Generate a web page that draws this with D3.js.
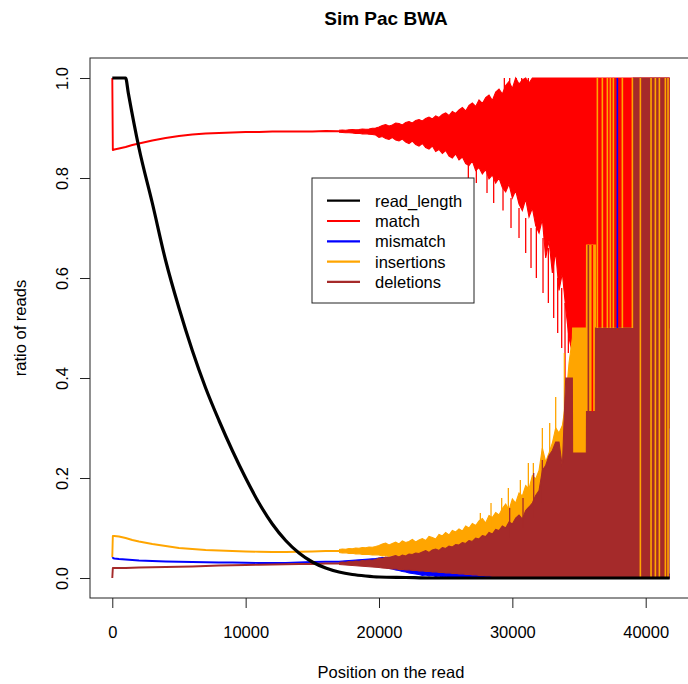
<!DOCTYPE html>
<html>
<head>
<meta charset="utf-8">
<script src="https://cdn.jsdelivr.net/npm/d3@7"></script>
<style>
  body { margin: 0; background: #fff; }
  svg text { font-family: "Liberation Sans", Arial, Helvetica, sans-serif; fill: #000; }
</style>
</head>
<body>
<svg id="chart" width="688" height="684"></svg>
<script>
// ---- series names, axis ticks ----
const seriesNames = ["read_length", "match", "mismatch", "insertions", "deletions"];
const xTicks = [0, 10000, 20000, 30000, 40000];
const yTicks = [0, 0.2, 0.4, 0.6, 0.8, 1.0];
const yTickLabels = ["0.0", "0.2", "0.4", "0.6", "0.8", "1.0"];

// ---- fraction of reads still covering each position ----
const readPos = [0, 1000, 1200, 2000, 3000, 4000, 5000, 6000, 7000, 8000, 9000, 10000, 11000, 12000,
                 13000, 14000, 15000, 16000, 17000, 18000, 19000, 20000, 22000, 24000, 41800];
const readVal = [1, 1, .97, .86, .75, .635, .54, .455, .38, .315, .255, .2, .15, .108,
                 .075, .05, .032, .02, .012, .007, .004, .002, .001, 0, 0];

// ---- well-covered start of the read: one value per position ----
const smoothPos = [0, 40, 150, 500, 1000, 1500, 2000, 3000, 4000, 5000, 6000, 7000, 8000, 9000,
                   10000, 11000, 12000, 13000, 14000, 15000, 16000, 17000];
const matchSmooth = [1.0, .856, .857, .859, .862, .866, .869, .875, .880, .884, .887, .889, .890, .891,
                     .892, .892, .893, .893, .893, .893, .894, .8935];
const misSmooth = [.039, .040, .039, .038, .037, .036, .035, .034, .033, .0325, .032, .0315, .031, .031,
                   .0305, .030, .030, .030, .031, .032, .0325, .0325];
const insSmooth = [.042, .084, .084, .083, .080, .076, .073, .068, .064, .060, .058, .056, .055, .054,
                   .053, .0525, .052, .052, .0525, .053, .054, .054];
const delSmooth = [0, .020, .020, .020, .020, .0205, .021, .0215, .022, .0225, .023, .024, .025, .0255,
                   .026, .0265, .027, .0275, .028, .028, .029, .029];

// ---- sparse coverage: low / high of each ratio per bin of 250 positions (17000 .. 34500) ----
const gridPos = d3.range(17000, 34501, 250);
const matchHi = [
  .8955,.896,.8955,.8965,.897,.8965,.897,.898,.8975,.898,.8995,.900,
  .902,.905,.907,.904,.906,.910,.909,.906,.911,.913,.910,.915,
  .917,.914,.919,.922,.918,.924,.921,.927,.930,.925,.933,.929,
  .936,.941,.934,.945,.950,.943,.956,.949,.961,.966,.955,.972,
  .978,.968,.985,.993,.979,1.0,.988,.996,1.0,.990,1.0,1.0,
  1.0,1.0,1.0,1.0,1.0,1.0,1.0,1.0,1.0,1.0,1.0];
const matchLo = [
  .8915,.891,.8905,.8905,.890,.889,.8895,.888,.8885,.8875,.887,.886,
  .881,.883,.879,.877,.881,.876,.874,.878,.872,.869,.874,.867,
  .864,.869,.861,.858,.864,.853,.857,.849,.855,.844,.840,.848,
  .836,.842,.829,.825,.834,.815,.821,.808,.817,.798,.806,.790,
  .800,.781,.772,.788,.760,.775,.748,.735,.758,.722,.740,.705,
  .690,.718,.640,.675,.610,.652,.575,.610,.540,.480,.450];
const insHi = [
  .057,.058,.0575,.059,.0585,.060,.0595,.061,.0605,.062,.0615,.063,
  .065,.068,.070,.066,.069,.072,.068,.074,.071,.073,.077,.072,
  .076,.079,.075,.083,.081,.078,.087,.084,.091,.086,.095,.092,
  .098,.094,.104,.100,.109,.105,.114,.119,.110,.125,.121,.131,
  .126,.139,.148,.136,.158,.150,.170,.164,.185,.178,.205,.198,
  .215,.260,.232,.250,.270,.300,.290,.305,.350,.430,.480];
const insLo = [
  .051,.050,.0505,.049,.0495,.048,.0485,.047,.0475,.047,.046,.0465,
  .046,.044,.045,.043,.045,.042,.044,.041,.043,.040,.042,.039,
  .038,.036,.037,.034,.035,.032,.033,.030,.031,.028,.029,.026,
  .026,.024,.025,.022,.022,.020,.021,.018,.019,.016,.017,.015,
  .015,.013,.014,.012,.012,.010,.011,.010,.010,.010,.010,.010,
  .010,.010,.010,.010,.010,.010,.010,.010,.010,.010,.010];
const delHi = [
  .031,.032,.0315,.033,.0325,.034,.0335,.035,.0345,.036,.0355,.037,
  .040,.039,.042,.041,.043,.045,.042,.046,.044,.048,.047,.050,
  .049,.052,.055,.051,.056,.058,.055,.061,.059,.064,.062,.067,
  .066,.071,.069,.075,.073,.080,.078,.085,.083,.091,.088,.097,
  .095,.104,.100,.112,.108,.120,.126,.118,.135,.142,.150,.165,
  .175,.215,.225,.245,.255,.272,.272,.222,.400,.400,.400];
const delLo = [
  .027,.0265,.026,.0255,.025,.0245,.024,.0235,.023,.0225,.022,.0215,
  .021,.020,.0195,.019,.018,.0185,.017,.0175,.016,.0165,.015,.0155,
  .014,.0145,.013,.0135,.012,.0125,.011,.0115,.010,.0105,.009,.0095,
  .008,.0085,.007,.0075,.006,.0065,.005,.0055,.004,.0045,.003,.0035,
  .002,.0025,.001,.0015,0,.001,0,0,0,0,0,0,
  0,0,0,0,0,0,0,0,0,0,0];
const misHi = [
  .0335,.034,.0345,.035,.0355,.036,.0365,.037,.0375,.038,.0385,.039,
  .040,.041,.0405,.042,.0415,.0425,.042,.043,.0425,.0435,.043,.044,
  .0435,.043,.0425,.042,.0415,.041,.0405,.040,.0395,.039,.0385,.038,
  .037,.035,.036,.034,.034,.032,.033,.031,.031,.030,.030,.028,
  .028,.026,.027,.025,.025,.024,.024,.022,.022,.020,.020,.018,
  .018,.016,.016,.014,.014,.012,.012,.010,.010,.008,.008];
const misLo = [
  .0315,.031,.0305,.030,.0295,.029,.0285,.028,.0275,.027,.026,.025,
  .024,.022,.021,.019,.018,.016,.015,.013,.012,.010,.009,.008,
  .007,.005,.006,.004,.005,.003,.004,.002,.003,.001,.002,.001,
  .001,0,.001,0,.001,0,0,.001,0,0,0,0,
  0,0,0,0,0,0,0,0,0,0,0,0,
  0,0,0,0,0,0,0,0,0,0,0];

// ---- last few reads: coverage of 4, 3, 2 and 1 reads gives stepped ranges ----
const farPos = [34520, 35550, 35560, 36225, 36235, 39075, 39085, 41800];
const matchFarLo = [.5, .5, .666, .666, .5, .5, .5, .5];
const matchFarHi = [1, 1, 1, 1, 1, 1, 1, 1];
const insFarLo = [.25, .25, .333, .333, .3, .3, .3, .3];
const insFarHi = [.5, .5, .666, .666, .5, .5, .5, .5];
const delFarLo = [0, 0, 0, 0, 0, 0, 0, 0];
const delFarHi = [.25, .25, .333, .333, .5, .5, 1, 1];
const misFarLo = [0, 0, 0, 0, 0, 0, 0, 0];
const misFarHi = [.008, .008, .008, .008, .008, .008, .008, .008];

// ---- isolated positions that reach well outside their band ----
const spikePos = [26700, 27300, 28100, 28600, 29300, 29900, 30500, 31000, 31400, 31800, 32300, 32700,
  33100, 33400, 33700, 33950, 34200,
  29400, 29800, 30300, 30700, 31200,
  27600, 28400, 29200, 29700, 30600, 31200, 31575, 32250, 32800, 33250, 33900,
  29800, 30800, 31600, 32250];
const spikeLo = [.80, .79, .77, .75, .735, .70, .68, .65, .62, .60, .57, .55,
  .52, .49, .46, .40, .45,
  .97, .97, .98, .98, .99,
  .08, .09, .10, .11, .12, .13, .14, .16, .20, .22, .30,
  .08, .10, .12, .15];
const spikeHi = [.84, .83, .81, .80, .78, .76, .74, .72, .70, .70, .68, .66,
  .64, .60, .58, .55, .52,
  1, 1, 1, 1, 1,
  .13, .15, .16, .18, .196, .23, .23, .30, .31, .362, .45,
  .14, .16, .21, .236];
const spikeSeries = ["match", "match", "match", "match", "match", "match", "match", "match", "match",
  "match", "match", "match", "match", "match", "match", "match", "match",
  "match", "match", "match", "match", "match",
  "insertions", "insertions", "insertions", "insertions", "insertions", "insertions", "insertions",
  "insertions", "insertions", "insertions", "insertions",
  "deletions", "deletions", "deletions", "deletions"];

// ---- single positions where one ratio jumps across the whole covered range ----
const stripePos = [35700, 36000, 36375, 36750, 37125, 37350, 37575, 37875, 38250, 39000,
                   39600, 40400, 40725, 41025, 41475, 41675];
const stripeLo = [.333, .333, .5, .5, .5, .5, .5, .5, .5, .5, 0, 0, 0, 0, 0, 0];
const stripeHi = [.666, .666, 1, 1, 1, 1, 1, 1, 1, 1, 1, 1, 1, 1, 1, 1];
const stripeSeries = ["deletions", "match", "insertions", "insertions", "insertions", "insertions",
  "insertions", "mismatch", "insertions", "insertions", "insertions", "insertions", "insertions",
  "insertions", "insertions", "insertions"];

// ---- drawing ----
const colors = { read_length: "#000000", match: "#FF0000", mismatch: "#0000FF",
                 insertions: "#FFA500", deletions: "#A52A2A" };
const drawOrder = ["match", "mismatch", "insertions", "deletions"];

const plot = { left: 90, right: 692, top: 58, bottom: 598 };
const xExt = [0, 41800];
const xPad = (xExt[1] - xExt[0]) * 0.04;
const x = d3.scaleLinear().domain([xExt[0] - xPad, xExt[1] + xPad]).range([plot.left, plot.right]);
const y = d3.scaleLinear().domain([-0.04, 1.04]).range([plot.bottom, plot.top]);

const svg = d3.select("#chart");
svg.append("defs").append("clipPath").attr("id", "plotClip")
  .append("rect").attr("x", plot.left).attr("y", plot.top)
  .attr("width", plot.right - plot.left).attr("height", plot.bottom - plot.top);

function binned(hiArr, loArr, farLo, farHi) {
  const pts = gridPos.map((p, i) => ({ p, lo: loArr[i], hi: hiArr[i] }));
  farPos.forEach((p, i) => pts.push({ p, lo: farLo[i], hi: farHi[i] }));
  return pts;
}

const series = {
  match: { smooth: matchSmooth, bins: binned(matchHi, matchLo, matchFarLo, matchFarHi) },
  mismatch: { smooth: misSmooth, bins: binned(misHi, misLo, misFarLo, misFarHi) },
  insertions: { smooth: insSmooth, bins: binned(insHi, insLo, insFarLo, insFarHi) },
  deletions: { smooth: delSmooth, bins: binned(delHi, delLo, delFarLo, delFarHi) }
};

const g = svg.append("g").attr("clip-path", "url(#plotClip)");
const smoothLine = d3.line().x(d => x(d[0])).y(d => y(d[1]));
const area = d3.area().x(d => x(d.p)).y0(d => y(d.lo)).y1(d => y(d.hi));
const hiLine = d3.line().x(d => x(d.p)).y(d => y(d.hi));
const loLine = d3.line().x(d => x(d.p)).y(d => y(d.lo));

drawOrder.forEach(key => {
  const s = series[key];
  const c = colors[key];
  const sg = g.append("g");
  sg.append("path").attr("d", smoothLine(smoothPos.map((p, i) => [p, s.smooth[i]])))
    .attr("fill", "none").attr("stroke", c).attr("stroke-width", 1.9).attr("stroke-linejoin", "round");
  sg.append("path").attr("d", area(s.bins)).attr("fill", c);
  sg.append("path").attr("d", hiLine(s.bins)).attr("fill", "none").attr("stroke", c).attr("stroke-width", 1.1);
  sg.append("path").attr("d", loLine(s.bins)).attr("fill", "none").attr("stroke", c).attr("stroke-width", 1.1);
  // outliers of this series
  const idx = spikePos.map((p, i) => i).filter(i => spikeSeries[i] === key);
  sg.selectAll("line.spike").data(idx).join("line").attr("class", "spike")
    .attr("x1", i => x(spikePos[i])).attr("x2", i => x(spikePos[i]))
    .attr("y1", i => y(spikeLo[i])).attr("y2", i => y(spikeHi[i]))
    .attr("stroke", c).attr("stroke-width", 1.3);
});

g.append("g").selectAll("line").data(stripePos).join("line")
  .attr("x1", d => x(d)).attr("x2", d => x(d))
  .attr("y1", (d, i) => y(stripeLo[i])).attr("y2", (d, i) => y(stripeHi[i]))
  .attr("stroke", (d, i) => colors[stripeSeries[i]]).attr("stroke-width", 1.6);

const readLine = d3.line().x(d => x(d[0])).y(d => y(d[1])).curve(d3.curveMonotoneX);
g.append("path").attr("d", readLine(readPos.map((p, i) => [p, readVal[i]])))
  .attr("fill", "none").attr("stroke", colors.read_length).attr("stroke-width", 3.2);

// plot frame
svg.append("rect").attr("x", plot.left).attr("y", plot.top)
  .attr("width", plot.right - plot.left).attr("height", plot.bottom - plot.top)
  .attr("fill", "none").attr("stroke", "#222").attr("stroke-width", 1);

// axes
const xAxis = svg.append("g").attr("transform", `translate(0,${plot.bottom})`)
  .call(d3.axisBottom(x).tickValues(xTicks).tickFormat(d3.format("d")).tickSize(10).tickSizeOuter(0));
xAxis.select(".domain").remove();
xAxis.selectAll(".tick line").attr("stroke", "#222");
xAxis.selectAll(".tick text").attr("y", 40).attr("dy", 0)
  .style("font-size", "16.5px").style("font-family", "'Liberation Sans', Arial, sans-serif");

const yAxis = svg.append("g").attr("transform", `translate(${plot.left},0)`)
  .call(d3.axisLeft(y).tickValues(yTicks).tickFormat((d, i) => yTickLabels[i]).tickSize(10).tickSizeOuter(0));
yAxis.select(".domain").remove();
yAxis.selectAll(".tick line").attr("stroke", "#222");
yAxis.selectAll(".tick text").attr("x", 0).attr("dy", 0).attr("y", -22)
  .attr("transform", "rotate(-90)").attr("text-anchor", "middle")
  .style("font-size", "16.5px").style("font-family", "'Liberation Sans', Arial, sans-serif");

// titles
svg.append("text").attr("x", 386).attr("y", 25)
  .attr("text-anchor", "middle").style("font-size", "19px").style("font-weight", "bold")
  .text("Sim Pac BWA");
svg.append("text").attr("x", (plot.left + plot.right) / 2).attr("y", 678)
  .attr("text-anchor", "middle").style("font-size", "16.5px").text("Position on the read");
svg.append("text").attr("transform", `translate(26,${(plot.top + plot.bottom) / 2}) rotate(-90)`)
  .attr("text-anchor", "middle").style("font-size", "16.5px").text("ratio of reads");

// legend
const lg = svg.append("g");
lg.append("rect").attr("x", 312).attr("y", 178).attr("width", 162).attr("height", 125)
  .attr("fill", "#fff").attr("stroke", "#222").attr("stroke-width", 1);
seriesNames.forEach((name, i) => {
  const ry = 200.7 + i * 20.3;
  lg.append("line").attr("x1", 327).attr("x2", 360).attr("y1", ry).attr("y2", ry)
    .attr("stroke", colors[name]).attr("stroke-width", 2.2);
  lg.append("text").attr("x", 375).attr("y", ry + 6).style("font-size", "16.5px").text(name);
});
</script>
</body>
</html>
